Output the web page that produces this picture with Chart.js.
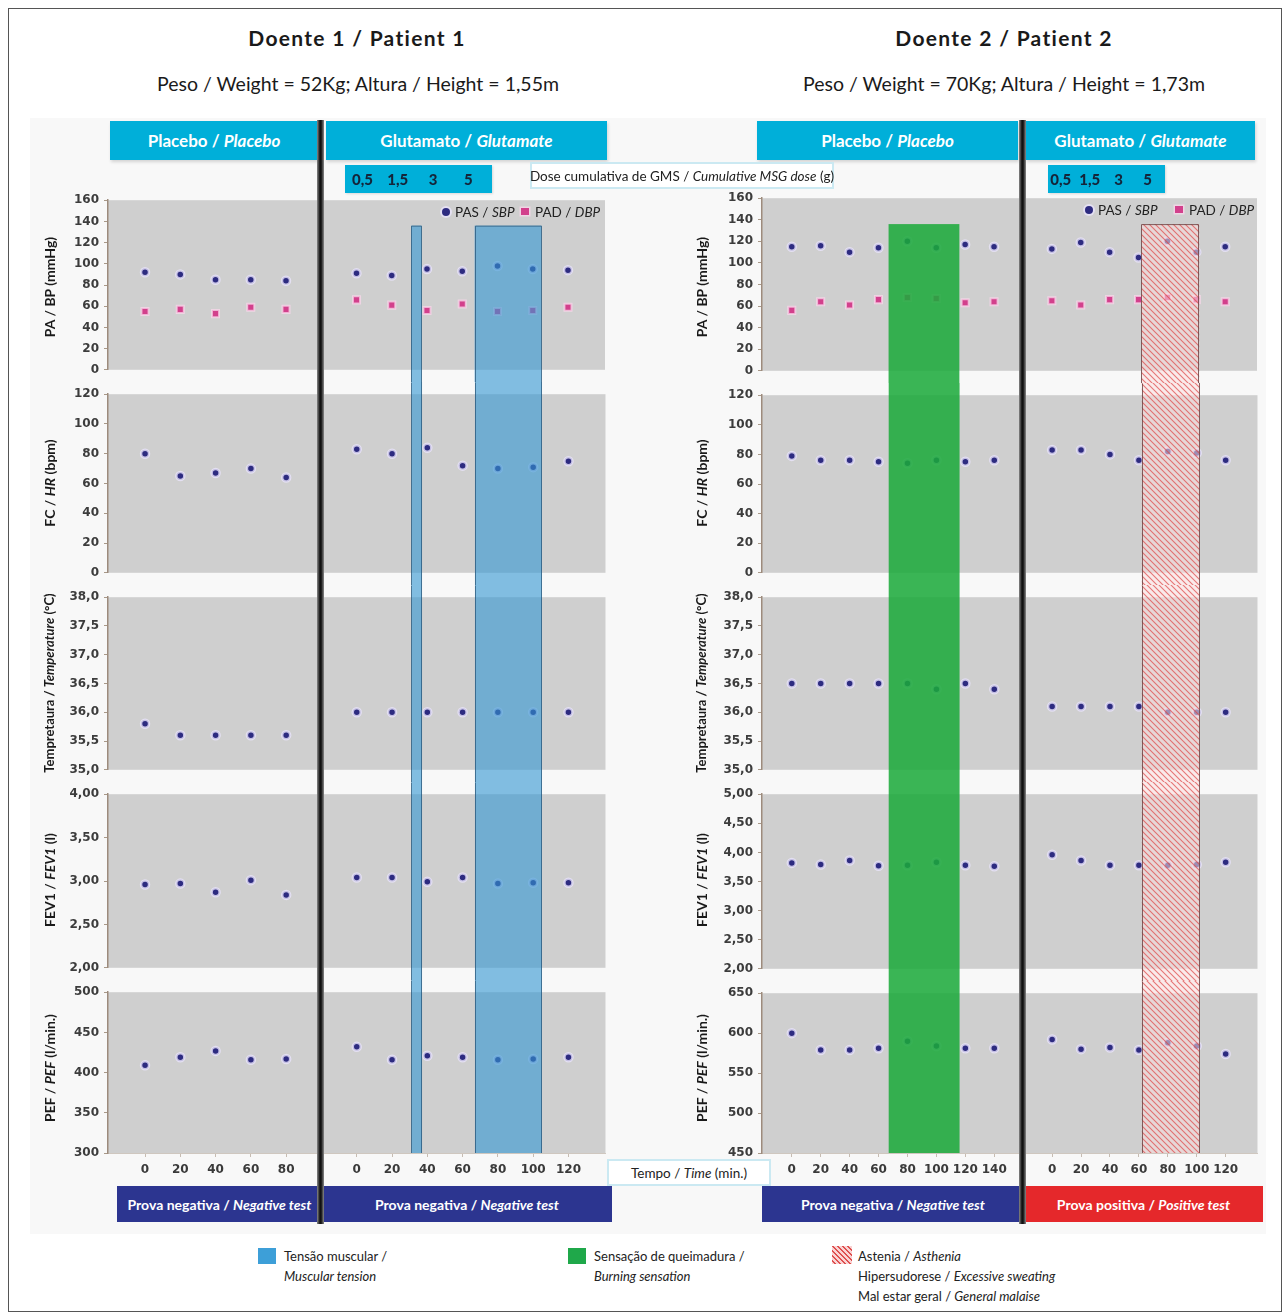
<!DOCTYPE html>
<html lang="pt">
<head>
<meta charset="utf-8">
<title>Doente 1 / Doente 2</title>
<script src="https://cdn.jsdelivr.net/npm/chart.js@4.4.1/dist/chart.umd.min.js"></script>
<style>
html,body{margin:0;padding:0;background:#fff;}
#page{position:relative;width:1286px;height:1316px;overflow:hidden;font-family:Lato,"Open Sans",sans-serif;color:#1a1a1a;}
.a{position:absolute;}
.frame{left:8px;top:8px;width:1274px;height:1304px;border:1px solid #555;box-sizing:border-box;}
.zone{left:30px;top:118px;width:1236px;height:1116px;background:#f8f8f8;}
.title{font-weight:700;font-size:21px;letter-spacing:1.3px;text-align:center;width:600px;line-height:26px;}
.sub{font-size:19.5px;text-align:center;width:600px;line-height:24px;}
.hdr{background:#00afd9;color:#fff;font-weight:700;font-size:17px;display:flex;align-items:center;justify-content:center;box-shadow:1px 2px 3px rgba(0,0,0,.15);white-space:nowrap;}
.dose{background:#00afd9;box-shadow:1px 1px 2px rgba(0,0,0,.12);}
.doselab{color:#14253a;font-weight:900;font-size:15px;transform:translate(-50%,-50%);white-space:nowrap;}
.note{background:#fff;border:2px solid #cbe9f2;box-sizing:border-box;font-size:13.5px;display:flex;align-items:center;justify-content:center;white-space:nowrap;color:#222;}
.foot{color:#fff;font-weight:700;font-size:14px;display:flex;align-items:center;justify-content:center;white-space:nowrap;}
.ytitle{font-weight:700;font-size:14px;white-space:nowrap;transform:translate(-50%,-50%) rotate(-90deg);color:#1a1a1a;}
.divider{width:7px;top:120px;height:1104px;background:linear-gradient(90deg,#8a8a8a,#222 35%,#111 50%,#222 65%,#8a8a8a);}
canvas{position:absolute;}
.leg{font-size:13.5px;white-space:nowrap;line-height:16px;color:#222;}
.leg2{font-size:13px;white-space:nowrap;line-height:20px;color:#222;}
</style>
</head>
<body>
<div id="page">
  <div class="a zone"></div>
  <div class="a frame"></div>
</div>
<script>
// ---------------- DATA ----------------
const p1PlaceboMinutes = [0, 20, 40, 60, 80];
const p1GlutamateMinutes = [0, 20, 40, 60, 80, 100, 120];
const p2PlaceboMinutes = [0, 20, 40, 60, 80, 100, 120, 140];
const p2GlutamateMinutes = [0, 20, 40, 60, 80, 100, 120];

const cumulativeDoses = ['0,5', '1,5', '3', '5'];

// Patient 1
const p1SbpPlacebo = [92, 90, 85, 85, 84];
const p1SbpGlutamate = [91, 89, 95, 93, 98, 95, 94];
const p1DbpPlacebo = [55, 57, 53, 59, 57];
const p1DbpGlutamate = [66, 61, 56, 62, 55, 56, 59];
const p1HrPlacebo = [80, 65, 67, 70, 64];
const p1HrGlutamate = [83, 80, 84, 72, 70, 71, 75];
const p1TempPlacebo = [35.8, 35.6, 35.6, 35.6, 35.6];
const p1TempGlutamate = [36.0, 36.0, 36.0, 36.0, 36.0, 36.0, 36.0];
const p1FevPlacebo = [2.96, 2.97, 2.87, 3.01, 2.84];
const p1FevGlutamate = [3.04, 3.04, 2.99, 3.04, 2.97, 2.98, 2.98];
const p1PefPlacebo = [409, 419, 427, 416, 417];
const p1PefGlutamate = [432, 416, 421, 419, 416, 417, 419];

// Patient 2
const p2SbpPlacebo = [115, 116, 110, 114, 120, 114, 117, 115];
const p2SbpGlutamate = [113, 119, 110, 105, 120, 110, 115];
const p2DbpPlacebo = [56, 64, 61, 66, 68, 67, 63, 64];
const p2DbpGlutamate = [65, 61, 66, 66, 68, 66, 64];
const p2HrPlacebo = [79, 76, 76, 75, 74, 76, 75, 76];
const p2HrGlutamate = [83, 83, 80, 76, 82, 81, 76];
const p2TempPlacebo = [36.5, 36.5, 36.5, 36.5, 36.5, 36.4, 36.5, 36.4];
const p2TempGlutamate = [36.1, 36.1, 36.1, 36.1, 36.0, 36.0, 36.0];
const p2FevPlacebo = [3.82, 3.79, 3.86, 3.77, 3.78, 3.83, 3.78, 3.76];
const p2FevGlutamate = [3.96, 3.86, 3.78, 3.78, 3.78, 3.79, 3.83];
const p2PefPlacebo = [600, 579, 579, 581, 590, 584, 581, 581];
const p2PefGlutamate = [592, 580, 582, 579, 588, 584, 574];

// Symptom periods (minutes)
const p1MuscularTensionGlutamate = [[31, 37], [67, 105]];
const p2BurningPlacebo = [[67, 116]];
const p2AstheniaGlutamate = [[62, 102]];
const symptomTopBP = 136;

// Axis ranges [min, max, step]
const bpRange = [0, 160, 20];
const hrRange = [0, 120, 20];
const tempRange = [35, 38, 0.5];
const p1FevRange = [2, 4, 0.5];
const p2FevRange = [2, 5, 0.5];
const p1PefRange = [300, 500, 50];
const p2PefRange = [450, 650, 50];

// ---------------- RENDER ----------------
Chart.defaults.font.family = "'DejaVu Sans', sans-serif";
const page = document.getElementById('page');

function el(cls, style, html) {
  const d = document.createElement('div');
  d.className = 'a ' + cls;
  Object.assign(d.style, style);
  if (html !== undefined) d.innerHTML = html;
  page.appendChild(d);
  return d;
}
const px = v => v + 'px';

function series(placebo, glut) {
  const nP = placebo.length;
  return placebo.map((v, i) => ({x: i, y: v})).concat(glut.map((v, i) => ({x: nP + 1 + i, y: v})));
}

const hatchTile = (() => {
  const c = document.createElement('canvas');
  c.width = 6; c.height = 6;
  const g = c.getContext('2d');
  g.fillStyle = 'rgba(252,222,222,0.55)';
  g.fillRect(0, 0, 6, 6);
  g.strokeStyle = 'rgba(222,70,70,0.7)';
  g.lineWidth = 1.1;
  g.beginPath();
  g.moveTo(-1, -1); g.lineTo(7, 7);
  g.moveTo(-1, 5); g.lineTo(1, 7);
  g.moveTo(5, -1); g.lineTo(7, 1);
  g.stroke();
  return c;
})();

const BAND_STYLES = {
  tension: {fill: 'rgba(50,150,210,0.6)', stroke: 'rgba(40,85,120,0.75)'},
  burning: {fill: 'rgba(27,170,58,0.86)', stroke: null},
  asthenia: {fill: 'hatch', stroke: 'rgba(110,70,70,0.85)'}
};

const sbpStyle = {
  pointStyle: 'circle', pointRadius: 4, pointBorderWidth: 2.5,
  pointBackgroundColor: '#2d2b80', pointBorderColor: 'rgba(232,228,250,0.8)', showLine: false
};
const dbpStyle = {
  pointStyle: 'rect', pointRadius: 5, pointBorderWidth: 2,
  pointBackgroundColor: '#d2408c', pointBorderColor: 'rgba(250,215,235,0.75)', showLine: false
};

const commaFmt = d => v => Number(v).toFixed(d).replace('.', ',');
const X_AXIS_H = 28;

function makePanel(p) {
  const cv = document.createElement('canvas');
  cv.width = p.w; cv.height = p.h;
  cv.style.left = px(p.x); cv.style.top = px(p.y);
  cv.style.width = px(p.w); cv.style.height = px(p.h);
  page.appendChild(cv);

  const bg = {
    id: 'panelBg',
    beforeDraw(c) {
      const a = c.chartArea, ctx = c.ctx;
      ctx.save();
      ctx.fillStyle = '#cfcfcf';
      ctx.fillRect(a.left, a.top, a.right - a.left, a.bottom - a.top);
      ctx.restore();
    }
  };
  const bands = {
    id: 'bands',
    afterDatasetsDraw(c) {
      const ctx = c.ctx, xs = c.scales.x, ys = c.scales.y;
      const top = p.first ? ys.getPixelForValue(symptomTopBP) : 0;
      const bottom = p.last ? c.chartArea.bottom : c.height;
      p.bands.forEach(b => {
        const st = BAND_STYLES[b.kind];
        const x1 = xs.getPixelForValue(b.from), x2 = xs.getPixelForValue(b.to);
        ctx.save();
        ctx.fillStyle = st.fill === 'hatch' ? ctx.createPattern(hatchTile, 'repeat') : st.fill;
        ctx.fillRect(x1, top, x2 - x1, bottom - top);
        if (st.stroke) {
          ctx.strokeStyle = st.stroke;
          ctx.lineWidth = 1;
          ctx.beginPath();
          ctx.moveTo(Math.round(x1) + 0.5, bottom);
          ctx.lineTo(Math.round(x1) + 0.5, top + 0.5);
          if (p.first) ctx.lineTo(Math.round(x2) - 0.5, top + 0.5); else ctx.moveTo(Math.round(x2) - 0.5, top);
          ctx.lineTo(Math.round(x2) - 0.5, bottom);
          ctx.stroke();
        }
        ctx.restore();
      });
    }
  };

  const tickMap = new Map(p.xTicks.map(t => [t.v, t.label]));
  return new Chart(cv.getContext('2d'), {
    type: 'scatter',
    data: {datasets: p.datasets},
    options: {
      responsive: false, animation: false, events: [],
      layout: {padding: {top: p.padTop, bottom: p.padBottom, left: 0, right: 2}},
      plugins: {legend: {display: false}, tooltip: {enabled: false}},
      scales: {
        x: {
          type: 'linear', min: p.xMin, max: p.xMax, display: p.last,
          afterBuildTicks: s => { s.ticks = p.xTicks.map(t => ({value: t.v})); },
          afterFit: s => { if (p.last) s.height = X_AXIS_H; },
          ticks: {autoSkip: false, maxRotation: 0, minRotation: 0, padding: 6,
                  font: {family: "'DejaVu Sans', sans-serif", weight: 'bold', size: 12}, color: '#3a3a3a',
                  callback: v => tickMap.has(v) ? tickMap.get(v) : ''},
          grid: {drawOnChartArea: false, tickLength: 4, color: '#c6bcb2'},
          border: {color: '#cfc7bf'}
        },
        y: {
          type: 'linear', min: p.range[0], max: p.range[1],
          afterFit: s => { s.width = 53; },
          ticks: {stepSize: p.range[2], padding: 5, callback: p.fmt,
                  font: {family: "'DejaVu Sans', sans-serif", weight: 'bold', size: 12}, color: '#3c3c3c'},
          grid: {drawOnChartArea: false, tickLength: 4, color: '#a89888'},
          border: {color: '#9d8b7d', width: 1.5}
        }
      }
    },
    plugins: [bg, bands]
  });
}

function buildPatient(cfg) {
  const nP = cfg.placeboMin.length;
  const xTicks = cfg.placeboMin.map((m, i) => ({v: i, label: String(m)}))
    .concat(cfg.glutMin.map((m, i) => ({v: nP + 1 + i, label: String(m)})));
  const bands = [];
  cfg.bandsPlacebo.forEach(([a, b]) => bands.push({kind: cfg.placeboKind, from: a / 20, to: b / 20}));
  cfg.bandsGlut.forEach(([a, b]) => bands.push({kind: cfg.glutKind, from: nP + 1 + a / 20, to: nP + 1 + b / 20}));
  const charts = [];
  const plots = cfg.plots;
  for (let i = 0; i < plots.length; i++) {
    const [t, b] = plots[i];
    const last = i === plots.length - 1;
    const top = i === 0 ? t - 12 : Math.round((plots[i - 1][1] + t) / 2);
    const bottom = last ? b + X_AXIS_H + 4 : Math.round((b + plots[i + 1][0]) / 2);
    charts.push(makePanel({
      x: cfg.plotLeft - 53, y: top, w: cfg.plotRight - (cfg.plotLeft - 53) + 2, h: bottom - top,
      padTop: t - top, padBottom: last ? bottom - b - X_AXIS_H : bottom - b,
      xMin: cfg.xMin, xMax: cfg.xMax, xTicks, bands, first: i === 0, last,
      range: cfg.panels[i].range, fmt: cfg.panels[i].fmt, datasets: cfg.panels[i].datasets
    }));
  }
  return charts;
}

const intFmt = v => String(v);

const p1Charts = buildPatient({
  placeboMin: p1PlaceboMinutes, glutMin: p1GlutamateMinutes,
  plotLeft: 108, plotRight: 610, xMin: -1.05, xMax: 13.05,
  plots: [[200, 373], [390, 576], [593, 772], [792, 971], [989, 1153]],
  bandsPlacebo: [], placeboKind: null,
  bandsGlut: p1MuscularTensionGlutamate, glutKind: 'tension',
  panels: [
    {range: bpRange, fmt: intFmt, datasets: [
      Object.assign({label: 'PAS / SBP', data: series(p1SbpPlacebo, p1SbpGlutamate)}, sbpStyle),
      Object.assign({label: 'PAD / DBP', data: series(p1DbpPlacebo, p1DbpGlutamate)}, dbpStyle)]},
    {range: hrRange, fmt: intFmt, datasets: [Object.assign({label: 'FC / HR', data: series(p1HrPlacebo, p1HrGlutamate)}, sbpStyle)]},
    {range: tempRange, fmt: commaFmt(1), datasets: [Object.assign({label: 'Temperatura', data: series(p1TempPlacebo, p1TempGlutamate)}, sbpStyle)]},
    {range: p1FevRange, fmt: commaFmt(2), datasets: [Object.assign({label: 'FEV1', data: series(p1FevPlacebo, p1FevGlutamate)}, sbpStyle)]},
    {range: p1PefRange, fmt: intFmt, datasets: [Object.assign({label: 'PEF', data: series(p1PefPlacebo, p1PefGlutamate)}, sbpStyle)]}
  ]
});

const p2Charts = buildPatient({
  placeboMin: p2PlaceboMinutes, glutMin: p2GlutamateMinutes,
  plotLeft: 762, plotRight: 1262, xMin: -1.03, xMax: 16.1,
  plots: [[198, 374], [391, 576], [593, 773], [791, 972], [989, 1153]],
  bandsPlacebo: p2BurningPlacebo, placeboKind: 'burning',
  bandsGlut: p2AstheniaGlutamate, glutKind: 'asthenia',
  panels: [
    {range: bpRange, fmt: intFmt, datasets: [
      Object.assign({label: 'PAS / SBP', data: series(p2SbpPlacebo, p2SbpGlutamate)}, sbpStyle),
      Object.assign({label: 'PAD / DBP', data: series(p2DbpPlacebo, p2DbpGlutamate)}, dbpStyle)]},
    {range: hrRange, fmt: intFmt, datasets: [Object.assign({label: 'FC / HR', data: series(p2HrPlacebo, p2HrGlutamate)}, sbpStyle)]},
    {range: tempRange, fmt: commaFmt(1), datasets: [Object.assign({label: 'Temperatura', data: series(p2TempPlacebo, p2TempGlutamate)}, sbpStyle)]},
    {range: p2FevRange, fmt: commaFmt(2), datasets: [Object.assign({label: 'FEV1', data: series(p2FevPlacebo, p2FevGlutamate)}, sbpStyle)]},
    {range: p2PefRange, fmt: intFmt, datasets: [Object.assign({label: 'PEF', data: series(p2PefPlacebo, p2PefGlutamate)}, sbpStyle)]}
  ]
});

// ---------------- TEXT & DECORATION ----------------
el('title', {left: px(357 - 300), top: px(25)}, 'Doente 1 / Patient 1');
el('title', {left: px(1004 - 300), top: px(25)}, 'Doente 2 / Patient 2');
el('sub', {left: px(358 - 300), top: px(72)}, 'Peso / Weight = 52Kg; Altura / Height = 1,55m');
el('sub', {left: px(1004 - 300), top: px(72)}, 'Peso / Weight = 70Kg; Altura / Height = 1,73m');

el('hdr', {left: px(110), top: px(121), width: px(208), height: px(39)}, 'Placebo /&nbsp;<i>Placebo</i>');
el('hdr', {left: px(326), top: px(121), width: px(281), height: px(39)}, 'Glutamato /&nbsp;<i>Glutamate</i>');
el('hdr', {left: px(757), top: px(121), width: px(261), height: px(39)}, 'Placebo /&nbsp;<i>Placebo</i>');
el('hdr', {left: px(1026), top: px(121), width: px(229), height: px(39)}, 'Glutamato /&nbsp;<i>Glutamate</i>');

el('dose', {left: px(345), top: px(165), width: px(147), height: px(28)});
el('dose', {left: px(1048), top: px(165), width: px(117), height: px(28)});
function doseLabels(chart, nP, offset) {
  const left = parseFloat(chart.canvas.style.left);
  cumulativeDoses.forEach((d, i) => {
    const x = left + chart.scales.x.getPixelForValue(nP + 1 + i) + offset;
    el('doselab', {left: px(x), top: px(179)}, d);
  });
}
doseLabels(p1Charts[0], p1PlaceboMinutes.length, 6);
doseLabels(p2Charts[0], p2PlaceboMinutes.length, 9);

el('note', {left: px(530), top: px(162), width: px(304), height: px(27)}, 'Dose cumulativa de GMS /&nbsp;<i>Cumulative MSG dose</i>&nbsp;(g)');
el('note', {left: px(607), top: px(1159), width: px(164), height: px(27)}, 'Tempo /&nbsp;<i>Time</i>&nbsp;(min.)');

// BP legends
function bpLegend(dotX, sqX, y) {
  el('', {left: px(dotX - 4), top: px(y - 4), width: '8px', height: '8px', borderRadius: '50%', background: '#2d2b80', boxShadow: '0 0 0 2px rgba(232,228,250,0.8)'});
  el('leg', {left: px(dotX + 9), top: px(y - 8)}, 'PAS / <i>SBP</i>');
  el('', {left: px(sqX - 4), top: px(y - 4), width: '8px', height: '7px', background: '#d2408c', boxShadow: '0 0 0 1.5px rgba(250,215,235,0.75)'});
  el('leg', {left: px(sqX + 10), top: px(y - 8)}, 'PAD / <i>DBP</i>');
}
bpLegend(446, 525, 212);
bpLegend(1089, 1179, 210);

// Y axis titles
const yTitles = [
  ['PA / BP (mmHg)', 287, 14],
  ['FC / <i>HR</i> (bpm)', 483, 14],
  ['Tempretaura / <i>Temperature</i> (°C)', 683, 13],
  ['FEV1 / <i>FEV1</i> (l)', 880, 14],
  ['PEF / <i>PEF</i> (l/min.)', 1068, 14]
];
yTitles.forEach(([t, y, fs]) => {
  el('ytitle', {left: px(49), top: px(y), fontSize: px(fs)}, t);
  el('ytitle', {left: px(701), top: px(y), fontSize: px(fs)}, t);
});

// Footer result boxes
el('foot', {left: px(117), top: px(1186), width: px(205), height: px(36), background: '#2c3590'}, 'Prova negativa /&nbsp;<i>Negative test</i>');
el('foot', {left: px(322), top: px(1186), width: px(290), height: px(36), background: '#2c3590'}, 'Prova negativa /&nbsp;<i>Negative test</i>');
el('foot', {left: px(762), top: px(1186), width: px(262), height: px(36), background: '#2c3590'}, 'Prova negativa /&nbsp;<i>Negative test</i>');
el('foot', {left: px(1024), top: px(1186), width: px(239), height: px(36), background: '#e5282b'}, 'Prova positiva /&nbsp;<i>Positive test</i>');

// Dividers placebo | glutamate
el('divider', {left: px(317)});
el('divider', {left: px(1019)});

// Bottom legend
el('', {left: px(258), top: px(1248), width: px(18), height: px(16), background: '#3d9fd8'});
el('leg2', {left: px(284), top: px(1246)}, 'Tensão muscular /<br><i>Muscular tension</i>');
el('', {left: px(568), top: px(1248), width: px(18), height: px(16), background: '#1fa84a'});
el('leg2', {left: px(594), top: px(1246)}, 'Sensação de queimadura /<br><i>Burning sensation</i>');
el('', {left: px(832), top: px(1246), width: px(20), height: px(18),
  background: 'repeating-linear-gradient(45deg, rgba(250,212,212,1) 0 2px, rgba(222,80,80,1) 2px 3.5px)'});
el('leg2', {left: px(858), top: px(1246)}, 'Astenia / <i>Asthenia</i><br>Hipersudorese / <i>Excessive sweating</i><br>Mal estar geral / <i>General malaise</i>');
</script>
</body>
</html>
